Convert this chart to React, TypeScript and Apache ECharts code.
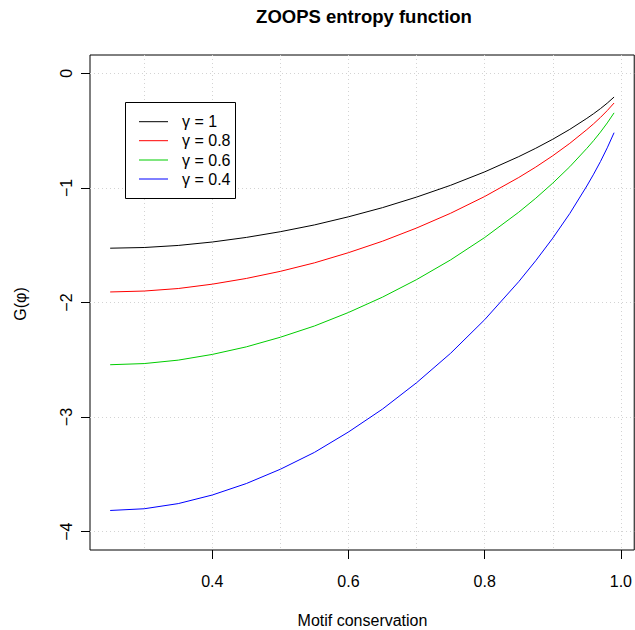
import React, { useEffect, useRef } from "react";
import * as echarts from "echarts";

// Motif conservation values (x)
const xValues = [0.25, 0.3, 0.35, 0.4, 0.45, 0.5, 0.55, 0.6, 0.65, 0.7, 0.75, 0.8, 0.85, 0.875, 0.9, 0.925, 0.95, 0.96, 0.97, 0.98, 0.99];
// G(phi), one list per gamma
const gamma1 = [-1.526, -1.52, -1.502, -1.472, -1.432, -1.382, -1.323, -1.252, -1.172, -1.08, -0.977, -0.86, -0.727, -0.654, -0.575, -0.489, -0.393, -0.352, -0.308, -0.26, -0.207];
const gamma08 = [-1.908, -1.9, -1.878, -1.84, -1.79, -1.728, -1.654, -1.565, -1.465, -1.35, -1.221, -1.075, -0.909, -0.818, -0.719, -0.611, -0.491, -0.44, -0.385, -0.325, -0.259];
const gamma06 = [-2.543, -2.533, -2.503, -2.453, -2.387, -2.303, -2.205, -2.087, -1.953, -1.8, -1.628, -1.433, -1.212, -1.09, -0.958, -0.815, -0.655, -0.587, -0.513, -0.433, -0.345];
const gamma04 = [-3.815, -3.8, -3.755, -3.68, -3.58, -3.455, -3.308, -3.13, -2.93, -2.7, -2.443, -2.15, -1.818, -1.635, -1.438, -1.223, -0.983, -0.88, -0.77, -0.65, -0.518];

const seriesNames = ["γ = 1", "γ = 0.8", "γ = 0.6", "γ = 0.4"];
const seriesColors = ["#000000", "#FF0000", "#00CD00", "#0000FF"];
const seriesValues = [gamma1, gamma08, gamma06, gamma04];

const xTickValues = [0.4, 0.6, 0.8, 1.0];
const xGridValues = [0.3, 0.4, 0.5, 0.6, 0.7, 0.8, 0.9, 1.0];
const yTickValues = [0, -1, -2, -3, -4];

const FONT = "'Liberation Sans', Arial, Helvetica, sans-serif";

export default function App() {
  const ref = useRef<HTMLDivElement>(null);

  useEffect(() => {
    if (!ref.current) return;
    const chart = echarts.init(ref.current, null, { renderer: "svg" });

    const legendTop = 102;
    const legendLeft = 125;
    const rowY = [121.7, 140.7, 160, 179];

    const legendGraphics: any[] = [
      {
        type: "rect",
        z: 100,
        shape: { x: legendLeft + 0.5, y: legendTop + 0.5, width: 110, height: 96 },
        style: { fill: "#ffffff", stroke: "#000000", lineWidth: 1 },
      },
    ];
    seriesNames.forEach((name, i) => {
      legendGraphics.push({
        type: "line",
        z: 101,
        shape: { x1: 139, y1: rowY[i], x2: 168, y2: rowY[i] },
        style: { stroke: seriesColors[i], lineWidth: 1 },
      });
      legendGraphics.push({
        type: "text",
        z: 101,
        x: 182,
        y: rowY[i],
        style: {
          text: name,
          font: `16px ${FONT}`,
          fill: "#000000",
          textAlign: "left",
          textVerticalAlign: "middle",
        },
      });
    });

    const gridLine = { show: true, lineStyle: { color: "#D3D3D3", width: 1, type: [1, 3] } };

    const option: any = {
      animation: false,
      backgroundColor: "#ffffff",
      grid: {
        left: 90,
        right: -1,
        top: 55,
        bottom: 80,
        show: true,
        borderColor: "#000000",
        borderWidth: 1,
        backgroundColor: "transparent",
      },
      xAxis: [
        {
          type: "value",
          min: 0.2204,
          max: 1.0196,
          position: "bottom",
          axisLine: { show: false, onZero: false },
          axisTick: {
            show: true,
            customValues: xTickValues,
            length: 9,
            inside: false,
            lineStyle: { color: "#000000", width: 1 },
          },
          axisLabel: {
            show: true,
            customValues: xTickValues,
            margin: 23,
            color: "#000000",
            fontFamily: FONT,
            fontSize: 16,
            formatter: (v: number) => v.toFixed(1),
          },
          splitLine: { show: false },
        },
        {
          type: "value",
          min: 0.2204,
          max: 1.0196,
          position: "top",
          axisLine: { show: false, onZero: false },
          axisTick: { show: false, customValues: xGridValues },
          axisLabel: { show: false },
          splitLine: gridLine,
        },
      ],
      yAxis: {
        type: "value",
        min: -4.16,
        max: 0.16,
        axisLine: { show: false, onZero: false },
        axisTick: {
          show: true,
          customValues: yTickValues,
          length: 9,
          lineStyle: { color: "#000000", width: 1 },
        },
        axisLabel: {
          show: true,
          customValues: yTickValues,
          rotate: 90,
          margin: 16,
          color: "#000000",
          fontFamily: FONT,
          fontSize: 16,
          formatter: (v: number) => (v < 0 ? "\u2212" + Math.abs(v) : String(v)),
        },
        splitLine: gridLine,
      },
      series: seriesValues.map((vals, i) => ({
        name: seriesNames[i],
        type: "line",
        xAxisIndex: 0,
        yAxisIndex: 0,
        data: xValues.map((x, j) => [x, vals[j]]),
        showSymbol: false,
        symbol: "none",
        smooth: false,
        lineStyle: { color: seriesColors[i], width: 1 },
        itemStyle: { color: seriesColors[i] },
        z: 5,
      })),
      graphic: [
        {
          type: "text",
          x: 364,
          y: 16.5,
          style: {
            text: "ZOOPS entropy function",
            font: `bold 18.5px ${FONT}`,
            fill: "#000000",
            textAlign: "center",
            textVerticalAlign: "middle",
          },
        },
        {
          type: "text",
          x: 362.5,
          y: 620,
          style: {
            text: "Motif conservation",
            font: `16px ${FONT}`,
            fill: "#000000",
            textAlign: "center",
            textVerticalAlign: "middle",
          },
        },
        {
          type: "text",
          x: 20.7,
          y: 304,
          rotation: Math.PI / 2,
          style: {
            text: "G(φ)",
            font: `16px ${FONT}`,
            fill: "#000000",
            textAlign: "center",
            textVerticalAlign: "middle",
          },
        },
        ...legendGraphics,
      ],
    };

    chart.setOption(option);
    return () => {
      chart.dispose();
    };
  }, []);

  return (
    <div
      ref={ref}
      style={{ position: "fixed", left: 0, top: 0, width: 635, height: 630, background: "#ffffff" }}
    />
  );
}
